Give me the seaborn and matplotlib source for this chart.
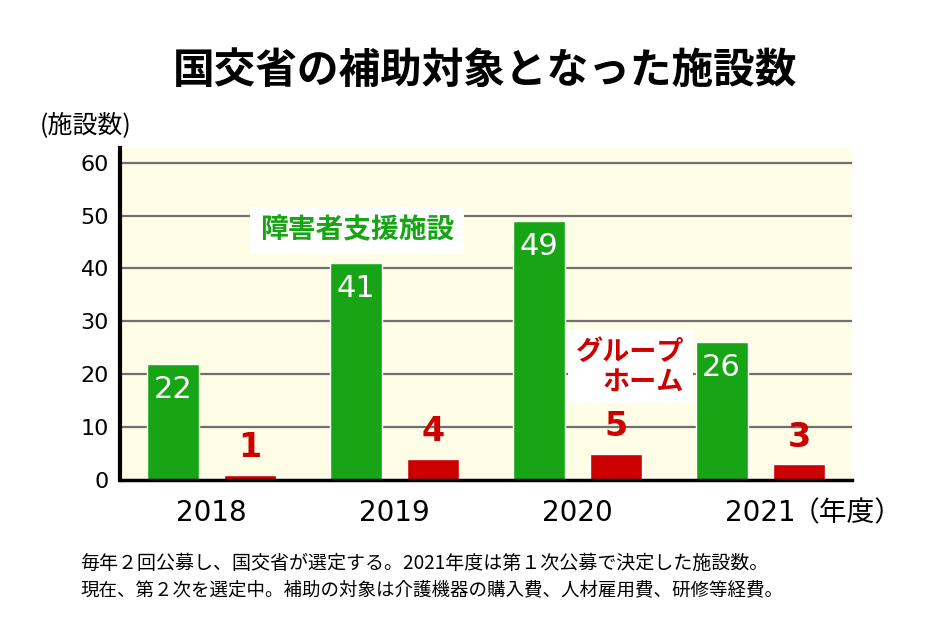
import matplotlib
matplotlib.use("Agg")
import matplotlib.pyplot as plt
import seaborn as sns
import pandas as pd

years = ["2018", "2019", "2020", "2021"]
support_facilities = [22, 41, 49, 26]
group_homes = [1, 4, 5, 3]
series_names = ["障害者支援施設", "グループホーム"]
y_ticks = [0, 10, 20, 30, 40, 50, 60]

title = "国交省の補助対象となった施設数"
y_unit = "(施設数)"
x_unit = "（年度）"
note_lines = [
    "毎年２回公募し、国交省が選定する。2021年度は第１次公募で決定した施設数。",
    "現在、第２次を選定中。補助の対象は介護機器の購入費、人材雇用費、研修等経費。",
]

GREEN = "#17a515"
RED = "#cc0000"
BG = "#fffde6"
NUM_FONT = ["DejaVu Sans"]

df = pd.DataFrame({
    "year": years * 2,
    "count": support_facilities + group_homes,
    "kind": [series_names[0]] * len(years) + [series_names[1]] * len(years),
})

sns.set_theme(style="white")
plt.rcParams["font.family"] = ["Noto Sans CJK JP", "DejaVu Sans"]
plt.rcParams["text.color"] = "black"
plt.rcParams["xtick.color"] = "black"
plt.rcParams["ytick.color"] = "black"

fig = plt.figure(figsize=(9.34, 6.34), dpi=100)
ax = fig.add_axes([0.1285, 0.243, 0.7835, 0.5237])
ax.set_facecolor(BG)

sns.barplot(data=df, x="year", y="count", hue="kind", order=years,
            hue_order=series_names, palette=[GREEN, RED], width=0.848,
            gap=0.33, saturation=1, legend=False, ax=ax, zorder=3)

ax.set_xlim(-0.5, 3.5)
ax.set_ylim(0, 62.8)
ax.set_yticks(y_ticks)
ax.set_yticklabels([str(t) for t in y_ticks], fontsize=16, family=NUM_FONT,
                   color="black")
ax.set_xticks(range(len(years)))
ax.set_xticklabels(years, fontsize=20, family=NUM_FONT, color="black")
for t in y_ticks[1:]:
    ax.axhline(t, color="#707070", lw=1.6, zorder=1)

ax.tick_params(axis="both", length=0)
ax.tick_params(axis="y", pad=8)
ax.tick_params(axis="x", pad=14)
ax.set_xlabel("")
ax.set_ylabel("")
for s in ["top", "right"]:
    ax.spines[s].set_visible(False)
ax.spines["left"].set_linewidth(3)
ax.spines["left"].set_color("black")
ax.spines["bottom"].set_linewidth(2.5)
ax.spines["bottom"].set_color("black")
ax.spines["left"].set_zorder(5)
ax.spines["bottom"].set_zorder(5)

# value labels
containers = ax.containers
for bar, v in zip(containers[0], support_facilities):
    ax.text(bar.get_x() + bar.get_width() / 2, v - 4.8, str(v),
            ha="center", va="center", color="white", fontsize=22,
            family=NUM_FONT, zorder=6)
for bar, v in zip(containers[1], group_homes):
    ax.text(bar.get_x() + bar.get_width() / 2, v + 5.1, str(v),
            ha="center", va="center", color=RED, fontsize=24,
            fontweight="bold", family=NUM_FONT, zorder=6)

# series labels
ax.text(0.795, 47.2, series_names[0], ha="center", va="center", color=GREEN,
        fontsize=20, fontweight="bold", zorder=4,
        bbox=dict(boxstyle="square,pad=0.35", fc="white", ec="none"))
ax.text(2.585, 21.4, "グループ\nホーム", ha="right", va="center", color=RED,
        fontsize=19.5, fontweight="bold", zorder=4, linespacing=1.05,
        multialignment="right",
        bbox=dict(boxstyle="square,pad=0.3", fc="white", ec="none"))

fig.text(0.519, 0.888, title, ha="center", va="center", fontsize=30,
         fontweight="bold", color="black")
fig.text(0.043, 0.803, y_unit, ha="left", va="center", fontsize=18)
fig.text(0.848, 0.191, x_unit, ha="left", va="center", fontsize=20)
fig.text(0.086, 0.112, note_lines[0], ha="left", va="center", fontsize=13.7)
fig.text(0.086, 0.069, note_lines[1], ha="left", va="center", fontsize=13.3)

fig.savefig("out.png", dpi=100, facecolor="white")
